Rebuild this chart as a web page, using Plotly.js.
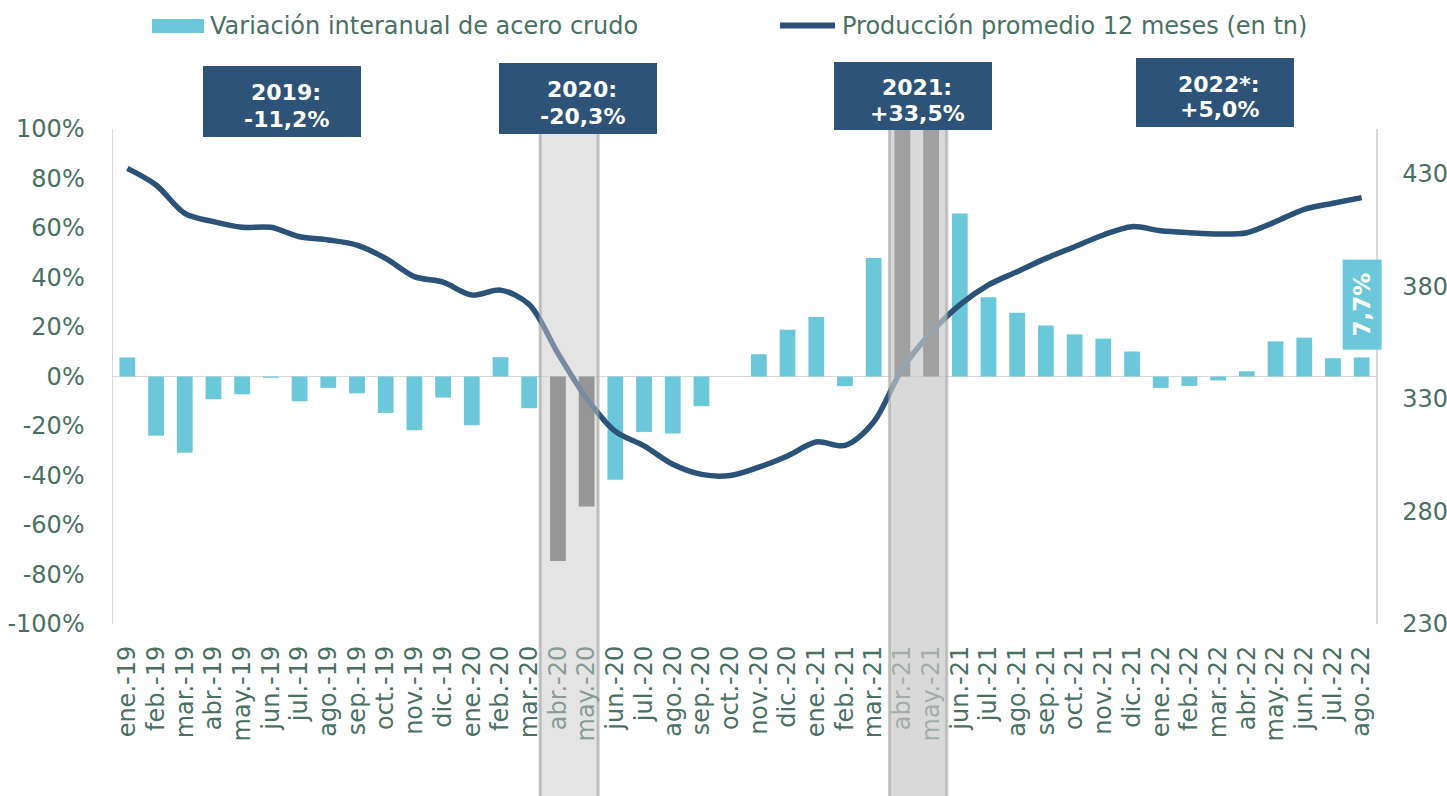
<!DOCTYPE html>
<html>
<head>
<meta charset="utf-8">
<script src="https://cdn.plot.ly/plotly-3.0.1.min.js"></script>
<style>html,body{margin:0;padding:0;background:#fff;}#chart{width:1447px;height:796px;}</style>
</head>
<body>
<div id="chart"></div>
<script>
// ---- data ----
var categories = ['ene.-19','feb.-19','mar.-19','abr.-19','may.-19','jun.-19','jul.-19','ago.-19','sep.-19','oct.-19','nov.-19','dic.-19',
  'ene.-20','feb.-20','mar.-20','abr.-20','may.-20','jun.-20','jul.-20','ago.-20','sep.-20','oct.-20','nov.-20','dic.-20',
  'ene.-21','feb.-21','mar.-21','abr.-21','may.-21','jun.-21','jul.-21','ago.-21','sep.-21','oct.-21','nov.-21','dic.-21',
  'ene.-22','feb.-22','mar.-22','abr.-22','may.-22','jun.-22','jul.-22','ago.-22'];
var variacion = [7.7,-23.9,-30.8,-9.2,-7.2,-0.5,-10.0,-4.6,-6.8,-14.7,-21.7,-8.5,
  -19.7,7.8,-12.8,-74.5,-52.5,-41.7,-22.4,-23.0,-12.0,0.0,9.0,18.9,
  24.0,-3.9,47.9,290,110,65.9,32.0,25.8,20.6,17.0,15.3,10.1,
  -4.6,-3.8,-1.6,2.1,14.2,15.7,7.4,7.7];
var promedio12m = [432.5,425.1,412.5,408.8,406.3,406.3,402.1,400.7,398.4,392.5,384.4,381.9,
  376.2,378.4,372.0,350.3,330.3,315.6,309.2,301.0,296.5,296.0,299.7,304.7,
  310.9,309.4,319.8,343.6,359.5,371.8,380.7,386.6,392.5,397.7,402.9,406.6,
  404.8,403.9,403.3,403.9,408.8,414.3,417.0,419.5];
var leftTickVals = [-100,-80,-60,-40,-20,0,20,40,60,80,100];
var leftTickText = ['-100%','-80%','-60%','-40%','-20%','0%','20%','40%','60%','80%','100%'];
var rightTickVals = [230,280,330,380,430];
var rightTickText = ['230','280','330','380','430'];
var yearLabels = ['2019:','2020:','2021:','2022*:'];
var yearValues = ['-11,2%','-20,3%','+33,5%','+5,0%'];
var lastLabel = '7,7%';
var seriesNames = ['Variación interanual de acero crudo','Producción promedio 12 meses (en tn)'];
var band1Cats = ['abr.-20','may.-20'];
var band2Cats = ['abr.-21','may.-21'];

// ---- styling ----
var CYAN = '#6BC8DA', NAVY = '#2B5279', BOX = '#2D5478', TXT = '#4A7062', AX = '#D9D9D9';
var FONT = 'DejaVu Sans, Verdana, sans-serif';

var barColors = categories.map(function(c){
  if (band1Cats.indexOf(c) >= 0) return '#666666';
  if (band2Cats.indexOf(c) >= 0) return '#474747';
  return CYAN;
});

var W = 1447, H = 796, ML = 113, MR = 71, MT = 129, MB = 172;
var PW = W - ML - MR, PH = H - MT - MB;
function px(X){ return (X - ML) / PW; }
function py(Y){ return (H - MB - Y) / PH; }

var traces = [
  {type:'bar', x:categories, y:variacion, yaxis:'y', marker:{color:barColors}, name:seriesNames[0], hoverinfo:'x+y', showlegend:false},
  {type:'scatter', mode:'lines', x:categories, y:promedio12m, yaxis:'y2', line:{color:NAVY, width:5.5, shape:'spline', smoothing:0.9}, name:seriesNames[1], showlegend:false}
];

// boxes: [left, right, top, bottom] in pixels
var boxes = [[203,361,66,137],[499,657,63,134],[834,992,62,130],[1136,1294,58,127]];
var annotations = [];
var shapes = [
  // legend markers
  {type:'rect', xref:'paper', yref:'paper', x0:px(152), x1:px(204), y0:py(33), y1:py(19), fillcolor:CYAN, line:{width:0}},
  {type:'line', xref:'paper', yref:'paper', x0:px(780), x1:px(835), y0:py(25.5), y1:py(25.5), line:{color:NAVY, width:6}},
  // shaded bands
  {type:'rect', layer:'above', xref:'x', yref:'paper', x0:14.38, x1:16.4, y0:py(H), y1:1, fillcolor:'rgba(200,200,200,0.49)', line:{width:0}},
  {type:'line', layer:'above', xref:'x', yref:'paper', x0:14.38, x1:14.38, y0:py(H), y1:1, line:{color:'rgba(150,150,150,0.55)', width:3}},
  {type:'line', layer:'above', xref:'x', yref:'paper', x0:16.4, x1:16.4, y0:py(H), y1:1, line:{color:'rgba(150,150,150,0.55)', width:3}},
  {type:'rect', layer:'above', xref:'x', yref:'paper', x0:26.55, x1:28.55, y0:py(H), y1:1, fillcolor:'rgba(200,200,200,0.69)', line:{width:0}},
  {type:'line', layer:'above', xref:'x', yref:'paper', x0:26.55, x1:26.55, y0:py(H), y1:1, line:{color:'rgba(150,150,150,0.5)', width:3}},
  {type:'line', layer:'above', xref:'x', yref:'paper', x0:28.55, x1:28.55, y0:py(H), y1:1, line:{color:'rgba(150,150,150,0.5)', width:3}}
];
for (var i = 0; i < yearLabels.length; i++) {
  var b = boxes[i];
  shapes.push({type:'rect', layer:'above', xref:'paper', yref:'paper', x0:px(b[0]), x1:px(b[1]), y0:py(b[3]), y1:py(b[2]),
    fillcolor:BOX, line:{width:0}});
  var cx = (b[0] + b[1]) / 2 + 4, cy = (b[2] + b[3]) / 2 + 4.5;
  annotations.push({xref:'paper', yref:'paper', x:px(cx), y:py(cy - 13), xanchor:'center', yanchor:'middle', showarrow:false,
    text:'<b>' + yearLabels[i] + '</b>', font:{family:FONT, size:22, color:'#ffffff'}});
  annotations.push({xref:'paper', yref:'paper', x:px(cx), y:py(cy + 13), xanchor:'center', yanchor:'middle', showarrow:false,
    text:'<b>' + yearValues[i] + '</b>', font:{family:FONT, size:22, color:'#ffffff'}});
}
annotations.push({
  xref:'x', yref:'paper', x:categories.length - 1, y:py(304.5), xanchor:'center', yanchor:'middle',
  text:'<b>' + lastLabel + '</b>', textangle:-90, showarrow:false, width:89, height:38, borderpad:0,
  bgcolor:CYAN, font:{family:FONT, size:23, color:'#ffffff'}
});
annotations.push({xref:'paper', yref:'paper', x:px(208), y:py(25.5), xanchor:'left', yanchor:'middle', showarrow:false,
  text:seriesNames[0], font:{family:FONT, size:24, color:TXT}});
annotations.push({xref:'paper', yref:'paper', x:px(840), y:py(25.5), xanchor:'left', yanchor:'middle', showarrow:false,
  text:seriesNames[1], font:{family:FONT, size:24, color:TXT}});

var layout = {
  width:W, height:H, margin:{l:ML, r:MR, t:MT, b:MB, pad:0},
  paper_bgcolor:'#ffffff', plot_bgcolor:'#ffffff',
  font:{family:FONT, size:24, color:TXT},
  showlegend:false, bargap:0.45,
  xaxis:{type:'category', range:[-0.5, categories.length - 0.5], tickmode:'array', tickvals:categories, ticktext:categories,
    tickangle:-90, showgrid:false, showline:false, zeroline:false,
    ticks:'', ticklabelstandoff:16, tickfont:{family:FONT, size:24, color:TXT}, fixedrange:true},
  yaxis:{range:[-100,100], tickvals:leftTickVals, ticktext:leftTickText, showgrid:false, showline:true, linecolor:AX, linewidth:1.5,
    zeroline:true, zerolinecolor:AX, zerolinewidth:1.5, ticks:'', ticklabelstandoff:22, tickfont:{family:FONT, size:24, color:TXT}},
  yaxis2:{overlaying:'y', side:'right', range:[230,450], tickvals:rightTickVals, ticktext:rightTickText, showgrid:false, showline:true,
    linecolor:AX, linewidth:1.5, zeroline:false, ticks:'', ticklabelstandoff:20, tickfont:{family:FONT, size:24, color:TXT}},
  annotations:annotations, shapes:shapes
};

Plotly.newPlot('chart', traces, layout, {displayModeBar:false, staticPlot:true});
</script>
</body>
</html>
